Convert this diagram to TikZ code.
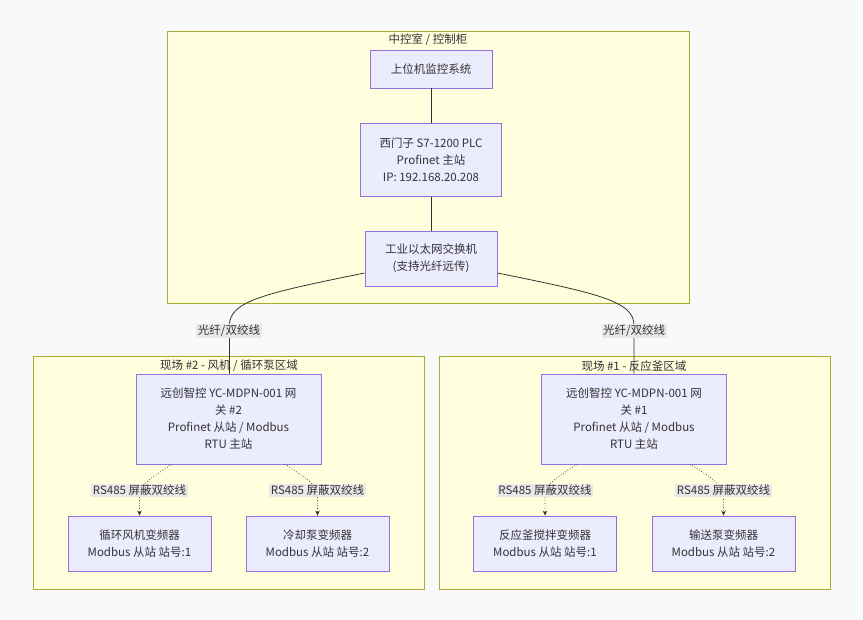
\documentclass[tikz,border=0pt]{standalone}
\usepackage{fontspec}
\setmainfont{Noto Sans CJK SC}
\usetikzlibrary{arrows.meta}
\definecolor{bgc}{HTML}{F8F9FA}
\definecolor{clfill}{HTML}{FFFFDE}
\definecolor{cldraw}{HTML}{AAAA33}
\definecolor{ndfill}{HTML}{ECECFF}
\definecolor{nddraw}{HTML}{9370DB}
\definecolor{txt}{HTML}{333333}
\definecolor{lblbg}{HTML}{E8E8E8}
\tikzset{
  cluster/.style={draw=cldraw, fill=clfill, line width=0.8pt},
  box/.style={draw=nddraw, fill=ndfill, line width=0.8pt, text=txt, align=center,
    inner sep=0pt, font=\fontsize{11.5}{17}\selectfont},
  ctitle/.style={text=txt, font=\fontsize{11.5}{14}\selectfont, inner sep=0pt},
  elabel/.style={fill=lblbg, text=txt, font=\fontsize{11.5}{14}\selectfont, inner sep=1.5pt},
  solidline/.style={draw=txt, line width=0.8pt},
  dotline/.style={draw=txt, line width=0.7pt, dotted, -{Stealth[length=5pt,width=4.5pt]}},
}
\begin{document}
\begin{tikzpicture}[x=1pt,y=-1pt]
\fill[bgc] (0,0) rectangle (863,620);
\useasboundingbox (0,0) rectangle (863,620);
% clusters
\draw[cluster] (167,31) rectangle (689,303);
\node[ctitle] (t0) at (428,40) {中控室 / 控制柜};
\draw[cluster] (33,356) rectangle (424,589);
\node[ctitle] (t2) at (229,366) {现场 \#2 - 风机 / 循环泵区域};
\draw[cluster] (439,356) rectangle (830,589);
\node[ctitle] (t1) at (634,366) {现场 \#1 - 反应釜区域};
% nodes
\node[box, minimum width=122pt, minimum height=38pt] (hmi) at (431,69) {上位机监控系统};
\node[box, minimum width=141pt, minimum height=73pt] (plc) at (431,160) {西门子 S7-1200 PLC\\Profinet 主站\\IP: 192.168.20.208};
\node[box, minimum width=132pt, minimum height=55pt] (sw) at (431,258.5) {工业以太网交换机\\(支持光纤远传)};
\node[box, minimum width=185pt, minimum height=90pt] (gw2) at (228.5,419) {远创智控 YC-MDPN-001 网\\关 \#2\\Profinet 从站 / Modbus\\RTU 主站};
\node[box, minimum width=185pt, minimum height=90pt] (gw1) at (634,419) {远创智控 YC-MDPN-001 网\\关 \#1\\Profinet 从站 / Modbus\\RTU 主站};
\node[box, minimum width=143pt, minimum height=55pt] (f1) at (139.5,543.5) {循环风机变频器\\Modbus 从站 站号:1};
\node[box, minimum width=143pt, minimum height=55pt] (p2) at (317.5,543.5) {冷却泵变频器\\Modbus 从站 站号:2};
\node[box, minimum width=143pt, minimum height=55pt] (r1) at (545,543.5) {反应釜搅拌变频器\\Modbus 从站 站号:1};
\node[box, minimum width=143pt, minimum height=55pt] (c2) at (723.5,543.5) {输送泵变频器\\Modbus 从站 站号:2};
% solid connectors
\draw[solidline] (hmi.south) -- (plc.north);
\draw[solidline] (plc.south) -- (sw.north);
\coordinate (swl) at ([yshift=-14.5pt]sw.west);
\coordinate (swr) at ([yshift=-14.5pt]sw.east);
\draw[solidline] (swl) .. controls (266,293) and (229.5,301) .. (229.5,325) -- (gw2.north -| 229.5,0);
\draw[solidline] (swr) .. controls (596,293) and (634,301) .. (634,325) -- (gw1.north);
\node[elabel] (l2) at (229,331) {光纤/双绞线};
\node[elabel] (l1) at (634,331) {光纤/双绞线};
% dotted connectors
\coordinate (g2a) at (172,464);
\coordinate (g2b) at (285,464);
\coordinate (g1a) at (577,464);
\coordinate (g1b) at (690,464);
\draw[dotline] (g2a) .. controls (152,478) and (139.5,484) .. (139.5,496) -- (f1.north);
\draw[dotline] (g2b) .. controls (305,478) and (317.5,484) .. (317.5,496) -- (p2.north);
\draw[dotline] (g1a) .. controls (557,478) and (545,484) .. (545,496) -- (r1.north);
\draw[dotline] (g1b) .. controls (711,478) and (723.5,484) .. (723.5,496) -- (c2.north);
\node[elabel] (e1) at (139.5,490.5) {RS485 屏蔽双绞线};
\node[elabel] (e2) at (317.5,490.5) {RS485 屏蔽双绞线};
\node[elabel] (e3) at (545,490.5) {RS485 屏蔽双绞线};
\node[elabel] (e4) at (723.5,490.5) {RS485 屏蔽双绞线};
\end{tikzpicture}
\end{document}
